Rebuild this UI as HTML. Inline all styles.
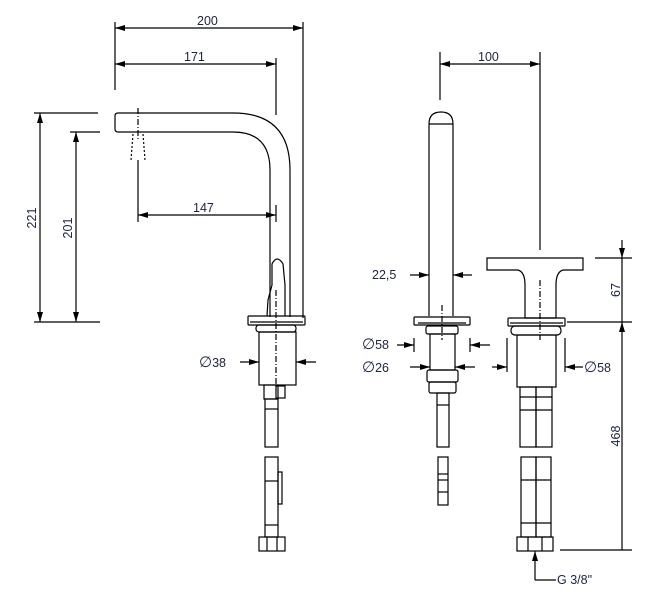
<!DOCTYPE html>
<html><head><meta charset="utf-8"><style>
html,body{margin:0;padding:0;background:#fff;width:660px;height:603px;overflow:hidden}
text{font-family:"Liberation Sans",sans-serif;font-size:12.5px;fill:#1c2340}
</style></head><body>
<svg width="660" height="603" viewBox="0 0 660 603" xmlns="http://www.w3.org/2000/svg">
<defs>
<marker id="a" viewBox="0 0 10 6" refX="10" refY="3" markerWidth="13" markerHeight="6" orient="auto-start-reverse" markerUnits="userSpaceOnUse"><path d="M0,0L10,3L0,6z" fill="#000"/></marker>
</defs>
<g stroke="#000" stroke-width="1.2" fill="none">
<line x1="115" y1="22" x2="115" y2="90"/>
<line x1="303" y1="22" x2="303" y2="318"/>
<line x1="276" y1="58" x2="276" y2="115"/>
<line x1="115" y1="28" x2="303" y2="28" marker-start="url(#a)" marker-end="url(#a)"/>
<line x1="115" y1="64" x2="276" y2="64" marker-start="url(#a)" marker-end="url(#a)"/>
<line x1="34" y1="113" x2="98" y2="113"/>
<line x1="70" y1="132" x2="100" y2="132"/>
<line x1="34" y1="322" x2="100" y2="322"/>
<line x1="40" y1="113" x2="40" y2="322" marker-start="url(#a)" marker-end="url(#a)"/>
<line x1="76" y1="132" x2="76" y2="322" marker-start="url(#a)" marker-end="url(#a)"/>
<line x1="138" y1="215" x2="276" y2="215" marker-start="url(#a)" marker-end="url(#a)"/>
<line x1="138" y1="160" x2="138" y2="222"/>
<line x1="276" y1="205" x2="276" y2="222"/>
<path d="M118,113 L233,113 Q290,113 290,170 L290,317"/>
<path d="M118,132 L233,132 Q270,132 270,170 L270,317"/>
<path d="M118,113 Q115,113 115,116 L115,129 Q115,132 118,132"/>
<line x1="138" y1="108" x2="138" y2="140" stroke-dasharray="6,2,1,2"/>
<path d="M133,134 L131,160 M143,134 L145,160" stroke-dasharray="2,2"/>
<path d="M267,316 L268,300 L272,285 L272,264 Q277,254 283,264 L285,285 L285,316"/>
<line x1="276" y1="290" x2="276" y2="390" stroke-dasharray="6,2,1,2"/>
<rect x="248" y="316" width="57" height="9" rx="1"/>
<line x1="250" y1="322" x2="303" y2="322"/>
<rect x="256" y="325" width="40" height="7" rx="3"/>
<rect x="259" y="332" width="37" height="53"/>
<line x1="240" y1="362" x2="259" y2="362" marker-end="url(#a)"/>
<line x1="316" y1="362" x2="296" y2="362" marker-end="url(#a)"/>
<rect x="264" y="385" width="14" height="14"/>
<rect x="276" y="386" width="9" height="12"/>
<rect x="265" y="399" width="13" height="48"/>
<line x1="265" y1="409" x2="278" y2="409"/>
<rect x="265" y="457" width="13" height="80"/>
<line x1="265" y1="481" x2="278" y2="481"/>
<rect x="278" y="472" width="4" height="32"/>
<line x1="265" y1="525" x2="278" y2="525"/>
<rect x="259" y="537" width="26" height="14"/>
<line x1="267" y1="537" x2="267" y2="551"/><line x1="277" y1="537" x2="277" y2="551"/>
<line x1="440" y1="52" x2="440" y2="100"/>
<line x1="540" y1="52" x2="540" y2="250"/>
<line x1="440" y1="64" x2="540" y2="64" marker-start="url(#a)" marker-end="url(#a)"/>
<path d="M429,316 L429,124 Q429,112 441,112 Q453,112 453,124 L453,316"/>
<line x1="429" y1="124" x2="453" y2="124"/>
<line x1="410" y1="275" x2="429" y2="275" marker-end="url(#a)"/>
<line x1="472" y1="275" x2="453" y2="275" marker-end="url(#a)"/>
<rect x="414" y="317" width="56" height="8" rx="1"/>
<line x1="418" y1="323" x2="466" y2="323"/>
<rect x="426" y="326" width="32" height="8" rx="2"/>
<rect x="430" y="334" width="25" height="36"/>
<line x1="442" y1="305" x2="442" y2="340" stroke-dasharray="6,2,1,2"/>
<line x1="414" y1="338" x2="414" y2="352"/>
<line x1="470" y1="338" x2="470" y2="352"/>
<line x1="397" y1="345" x2="414" y2="345" marker-end="url(#a)"/>
<line x1="490" y1="345" x2="470" y2="345" marker-end="url(#a)"/>
<line x1="410" y1="367" x2="430" y2="367" marker-end="url(#a)"/>
<line x1="475" y1="367" x2="455" y2="367" marker-end="url(#a)"/>
<rect x="427" y="370" width="31" height="12" rx="2"/>
<rect x="429" y="382" width="27" height="11" rx="2"/>
<rect x="437" y="393" width="12" height="54"/>
<line x1="437" y1="405" x2="449" y2="405"/>
<rect x="438" y="457" width="10" height="48"/>
<line x1="438" y1="474" x2="448" y2="474"/><line x1="438" y1="480" x2="448" y2="480"/>
<line x1="438" y1="492" x2="448" y2="492"/>
<path d="M487,258 L583,258 L583,270 L563,270 Q556,272 556,285 L556,318 L525,318 L525,285 Q525,272 518,270 L487,270 Z"/>
<line x1="540" y1="280" x2="540" y2="340" stroke-dasharray="6,2,1,2"/>
<rect x="508" y="318" width="57" height="8" rx="1"/>
<line x1="510" y1="323" x2="563" y2="323"/>
<rect x="511" y="326" width="50" height="9" rx="4"/>
<rect x="517" y="335" width="39" height="52"/>
<line x1="507" y1="338" x2="507" y2="372"/>
<line x1="565" y1="338" x2="565" y2="372"/>
<line x1="492" y1="367" x2="507" y2="367" marker-end="url(#a)"/>
<line x1="583" y1="367" x2="565" y2="367" marker-end="url(#a)"/>
<rect x="520" y="387" width="16" height="60"/><rect x="536" y="387" width="16" height="60"/>
<line x1="520" y1="397" x2="552" y2="397"/><line x1="520" y1="410" x2="552" y2="410"/>
<rect x="521" y="457" width="15" height="80"/><rect x="536" y="457" width="15" height="80"/>
<line x1="521" y1="480" x2="551" y2="480"/><line x1="521" y1="523" x2="551" y2="523"/>
<rect x="517" y="537" width="36" height="14"/>
<line x1="528" y1="537" x2="528" y2="551"/><line x1="542" y1="537" x2="542" y2="551"/>
<line x1="595" y1="258" x2="632" y2="258"/>
<line x1="567" y1="322" x2="632" y2="322"/>
<line x1="560" y1="550" x2="632" y2="550"/>
<line x1="622" y1="240" x2="622" y2="258" marker-end="url(#a)"/>
<line x1="622" y1="258" x2="622" y2="322"/>
<line x1="622" y1="550" x2="622" y2="322" marker-end="url(#a)"/>
<line x1="535" y1="580" x2="535" y2="551" marker-end="url(#a)"/>
<line x1="535" y1="580" x2="556" y2="580"/>
</g>
<text x="197" y="25">200</text>
<text x="184" y="61">171</text>
<text x="193" y="212">147</text>
<text x="199" y="367"><tspan font-size="15">∅</tspan>38</text>
<text x="36" y="218" transform="rotate(-90 36 218)" text-anchor="middle">221</text>
<text x="72" y="228" transform="rotate(-90 72 228)" text-anchor="middle">201</text>
<text x="478" y="61">100</text>
<text x="372" y="279">22,5</text>
<text x="362" y="349"><tspan font-size="15">∅</tspan>58</text>
<text x="362" y="372"><tspan font-size="15">∅</tspan>26</text>
<text x="584" y="372"><tspan font-size="15">∅</tspan>58</text>
<text x="620" y="290" transform="rotate(-90 620 290)" text-anchor="middle">67</text>
<text x="620" y="436" transform="rotate(-90 620 436)" text-anchor="middle">468</text>
<text x="557" y="584">G 3/8"</text>
</svg>
</body></html>
